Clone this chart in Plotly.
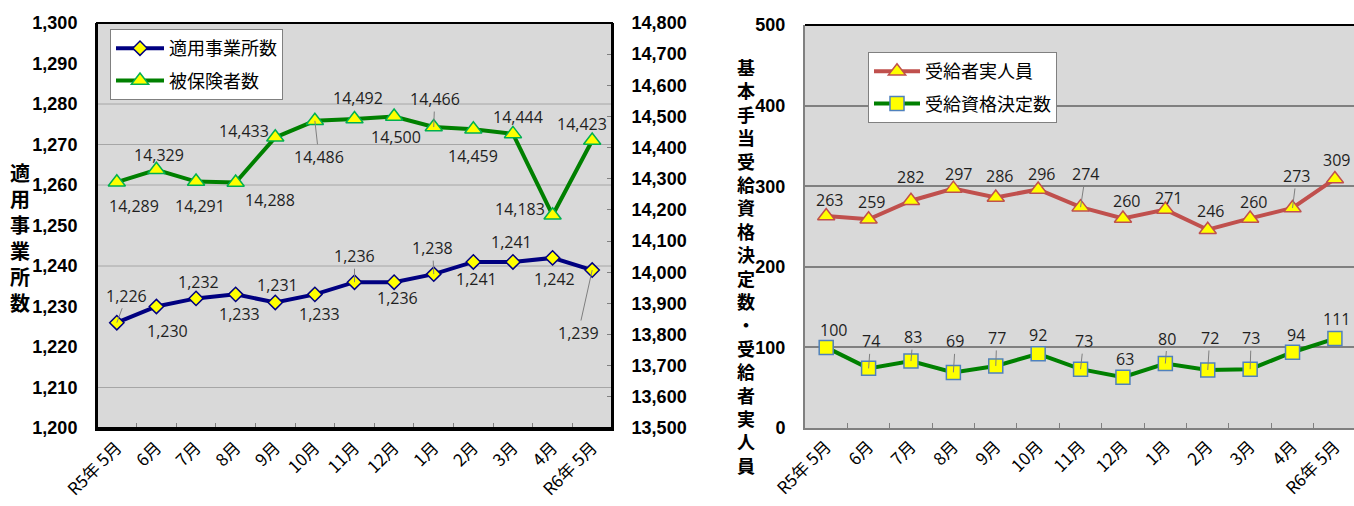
import plotly.graph_objects as go

# ---------------- data ----------------
months = ["R5年 5月", "6月", "7月", "8月", "9月", "10月", "11月", "12月",
          "1月", "2月", "3月", "4月", "R6年 5月"]

offices = [1226, 1230, 1232, 1233, 1231, 1233, 1236, 1236, 1238, 1241, 1241, 1242, 1239]
insured = [14289, 14329, 14291, 14288, 14433, 14486, 14492, 14500, 14466, 14459, 14444, 14183, 14423]

recipients = [263, 259, 282, 297, 286, 296, 274, 260, 271, 246, 260, 273, 309]
decisions = [100, 74, 83, 69, 77, 92, 73, 63, 80, 72, 73, 94, 111]

left_grid_values = [1210, 1240, 1260, 1270, 1280]

# ---------------- label placement (pixels) ----------------
off_dx = [10, 11, 2, 4, 2, 5, 0, 3, -1, 3, -1, 2, -14]
off_dy = [-27, 24, -16, 20, -17, 20, -26, 16, -26, 17, -20, 21, 63]
off_lead = [1, 0, 0, 0, 0, 0, 1, 0, 1, 0, 0, 0, 1]

ins_dx = [17, 3, 4, 34, -31, 4, 3, 2, 1, 0, 5, -33, -10]
ins_dy = [24, -15, 24, 17, -6, 36, -21, 21, -28, 27, -17, -6, -16]
ins_lead = [0, 0, 0, 0, 0, 1, 0, 0, 1, 0, 0, 0, 0]

rec_dx = [3, 3, 0, 5, 4, 3, 5, 4, 3, 3, 3, 4, 2]
rec_dy = [-16, -17, -24, -15, -21, -15, -33, -17, -12, -19, -16, -32, -19]
rec_lead = [0, 0, 0, 0, 0, 0, 1, 0, 0, 0, 0, 1, 0]

dec_dx = [7, 2, 2, 2, 1, 0, 3, 2, 2, 2, 1, 3, 2]
dec_dy = [-17, -27, -24, -31, -28, -19, -28, -18, -25, -32, -31, -17, -20]
dec_lead = [0, 1, 1, 1, 1, 0, 1, 0, 1, 1, 1, 0, 0]

W, H = 1354, 506
JP = "Noto Sans CJK JP"
NUM = "Open Sans"
TICKF = dict(family="Liberation Sans, Arial, sans-serif", size=18, color="black", weight="bold")

fig = go.Figure()

fig.add_trace(go.Scatter(
    x=months, y=offices, name="適用事業所数", mode="lines+markers",
    line=dict(color="#000080", width=4),
    marker=dict(symbol="diamond", size=11, color="#ffff00", line=dict(color="#000080", width=1.5)),
    xaxis="x", yaxis="y", legend="legend", legendgroup="a"))
fig.add_trace(go.Scatter(
    x=months, y=insured, name="被保険者数", mode="lines+markers",
    line=dict(color="#008000", width=4),
    marker=dict(symbol="triangle-up", size=15, color="#ffff00", line=dict(color="#00b050", width=1.5)),
    xaxis="x", yaxis="y2", legend="legend", legendgroup="b"))
fig.add_trace(go.Scatter(
    x=months, y=recipients, name="受給者実人員", mode="lines+markers",
    line=dict(color="#c0504d", width=4),
    marker=dict(symbol="triangle-up", size=15, color="#ffff00", line=dict(color="#c0504d", width=1.5)),
    xaxis="x2", yaxis="y3", legend="legend2", legendgroup="c"))
fig.add_trace(go.Scatter(
    x=months, y=decisions, name="受給資格決定数", mode="lines+markers",
    line=dict(color="#008000", width=4),
    marker=dict(symbol="square", size=14, color="#ffff00", line=dict(color="#4f81bd", width=1.5)),
    xaxis="x2", yaxis="y3", legend="legend2", legendgroup="d"))

annotations = []
label_font = dict(family=NUM, size=16, color="#1f1f1f")


def add_labels(values, dxs, dys, leads, xref, yref):
    for m, v, dx, dy, ld in zip(months, values, dxs, dys, leads):
        txt = f"{v:,}"
        if ld:
            annotations.append(dict(x=m, y=v, xref=xref, yref=yref, text=txt, showarrow=True,
                                    ax=dx, ay=dy, arrowhead=0, arrowwidth=1, arrowcolor="#7f7f7f",
                                    standoff=0, font=label_font))
        else:
            annotations.append(dict(x=m, y=v, xref=xref, yref=yref, text=txt, showarrow=False,
                                    xshift=dx, yshift=-dy, font=label_font))


add_labels(offices, off_dx, off_dy, off_lead, "x", "y")
add_labels(insured, ins_dx, ins_dy, ins_lead, "x", "y2")
add_labels(recipients, rec_dx, rec_dy, rec_lead, "x2", "y3")
add_labels(decisions, dec_dx, dec_dy, dec_lead, "x2", "y3")

# vertical axis titles (stacked upright characters)
left_title = "適用事業所数"
right_title = "基本手当受給資格決定数・受給者実人員"
annotations.append(dict(text="<br>".join(left_title), x=20 / W, y=1 - 238 / H, xref="paper", yref="paper",
                        xanchor="center", yanchor="middle", showarrow=False,
                        font=dict(family=JP, size=20, color="black", weight="bold")))
annotations.append(dict(text="<br>".join(right_title), x=746 / W, y=1 - 266 / H, xref="paper", yref="paper",
                        xanchor="center", yanchor="middle", showarrow=False,
                        font=dict(family=JP, size=18, color="black", weight="bold")))

shapes = []
for g in left_grid_values:
    shapes.append(dict(type="line", xref="x domain", yref="y", x0=0, x1=1, y0=g, y1=g,
                       line=dict(color="#a6a6a6", width=1), layer="below"))
shapes.append(dict(type="rect", xref="x domain", yref="y domain", x0=0, x1=1, y0=0, y1=1,
                   line=dict(color="black", width=2), layer="above"))
shapes.append(dict(type="line", xref="x2 domain", yref="y3 domain", x0=0, x1=1, y0=1, y1=1,
                   line=dict(color="black", width=2), layer="above"))

L_dom = [97 / W, 612 / W]
R_dom = [805 / W, 1.0]
Y_dom = [1 - 428 / H, 1 - 23 / H]
Y3_dom = [1 - 428 / H, 1 - 25 / H]

xcommon = dict(type="category", categoryorder="array", categoryarray=months,
               tickson="boundaries", ticks="inside", ticklen=5, tickcolor="#808080", tickwidth=1,
               tickangle=-45, showgrid=False, zeroline=False, automargin=False,
               tickfont=dict(family=JP, size=17, color="black"))

fig.update_layout(
    width=W, height=H, margin=dict(l=0, r=0, t=0, b=0),
    paper_bgcolor="white", plot_bgcolor="#d9d9d9",
    showlegend=True,
    xaxis=dict(domain=L_dom, anchor="y", range=[-0.5, 12.5], showline=True, linecolor="black",
               linewidth=3, **xcommon),
    yaxis=dict(domain=Y_dom, anchor="x", range=[1200, 1300], dtick=10, tick0=1200, tickformat=",",
               showgrid=False, zeroline=False, showline=True, linecolor="black", linewidth=2,
               ticks="", ticklabelstandoff=14, tickfont=TICKF, automargin=False),
    yaxis2=dict(overlaying="y", side="right", anchor="x", range=[13500, 14800], dtick=100, tick0=13500,
                tickformat=",", showgrid=False, zeroline=False, showline=True, linecolor="black",
                linewidth=2, ticks="inside", ticklen=5, tickcolor="#808080", ticklabelstandoff=14,
                tickfont=TICKF, automargin=False),
    xaxis2=dict(domain=R_dom, anchor="y3", range=[-0.5, 12.45], showline=True, linecolor="#808080",
                linewidth=2, **xcommon),
    yaxis3=dict(domain=Y3_dom, anchor="x2", range=[0, 500], dtick=100, tick0=0,
                showgrid=True, gridcolor="#808080", gridwidth=1.5, zeroline=False,
                showline=True, linecolor="#808080", linewidth=2, ticks="", ticklabelstandoff=14,
                tickfont=TICKF, automargin=False),
    legend=dict(x=110 / W, y=1 - 29 / H, xanchor="left", yanchor="top", bgcolor="white",
                bordercolor="#808080", borderwidth=1, font=dict(family=JP, size=18, color="black"),
                tracegroupgap=6, itemwidth=48),
    legend2=dict(x=868 / W, y=1 - 52 / H, xanchor="left", yanchor="top", bgcolor="white",
                 bordercolor="#808080", borderwidth=1, font=dict(family=JP, size=18, color="black"),
                 tracegroupgap=6, itemwidth=46),
    annotations=annotations,
    shapes=shapes,
)

fig.write_html("out.html", config={"displayModeBar": False},
               post_script="document.body.style.margin='0';")
